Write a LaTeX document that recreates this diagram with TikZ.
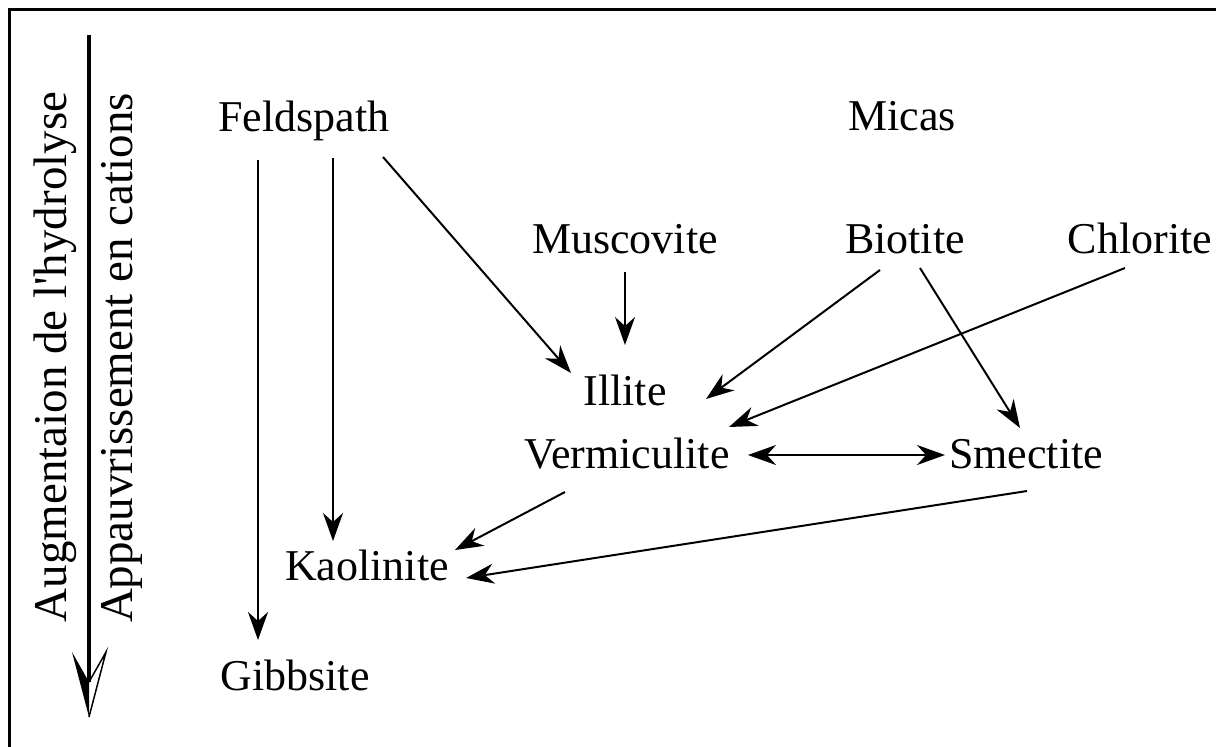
\documentclass[tikz,border=0pt]{standalone}
\usepackage{fontspec}
\setmainfont{Liberation Serif}
\usetikzlibrary{arrows.meta}

\begin{document}
\begin{tikzpicture}[x=1pt, y=-1pt, line width=2pt, >={Stealth[length=28pt,width=20pt,inset=9pt]}]
\useasboundingbox (0,0) rectangle (1216,747);
% frame: only top and left sides
\draw[line width=3pt] (9.5,747) -- (9.5,9.5) -- (1216,9.5);

\tikzstyle{every node} = [inner sep=0pt, anchor=base, font=\fontsize{44}{53}\selectfont]
\node (feld) at (304,131) {Feldspath};
\node (micas) at (902,130) {Micas};
\node (musc) at (625,253) {Muscovite};
\node (bio) at (905,253) {Biotite};
\node (chl) at (1140,253) {Chlorite};
\node (ill) at (625,405) {Illite};
\node (verm) at (627,468) {Vermiculite};
\node (sme) at (1026,468) {Smectite};
\node (kao) at (367,580) {Kaolinite};
\node (gib) at (295,690) {Gibbsite};

% side labels
\tikzstyle{every node} = [inner sep=0pt, anchor=center, rotate=90, font=\fontsize{47}{56}\selectfont]
\node (hydro) at (55,357) {Augmentaion de l\textquotesingle hydrolyse};
\node (cat) at (122,358) {Appauvrissement en cations};

% big downward arrow, half filled head
\coordinate (top) at (89,35);
\coordinate (tip) at (89,717);
\draw[line width=4pt] (top) -- ([shift={(0,-35)}]tip);
\fill ([shift={(0,-35)}]tip) -- ([shift={(-17,-65)}]tip) -- (tip) -- cycle;
\draw[line width=1.5pt] ([shift={(0,-35)}]tip) -- ([shift={(17,-65)}]tip) -- (tip);

\draw[->] ([shift={(-46,29)}]feld.base) -- ([shift={(-37,-50)}]gib.base);
\draw[->] ([shift={(29,27)}]feld.base) -- ([shift={(-34,-39)}]kao.base);
\draw[->] ([shift={(79,26)}]feld.base) -- ([shift={(-54,-32)}]ill.base);
\draw[->] ([shift={(0,19)}]musc.base) -- ([shift={(0,-60)}]ill.base);
\draw[->] ([shift={(-25,17)}]bio.base) -- ([shift={(81,-6)}]ill.base);
\draw[->] ([shift={(-15,15)}]chl.base) -- ([shift={(102,-41)}]verm.base);
\draw[->] ([shift={(15,15)}]bio.base) -- ([shift={(-6,-40)}]sme.base);
\draw[<->] ([shift={(121,-13)}]verm.base) -- ([shift={(-81,-13)}]sme.base);
\draw[->] ([shift={(-62,24)}]verm.base) -- ([shift={(88,-30)}]kao.base);
\draw[->] ([shift={(1,23)}]sme.base) -- ([shift={(99,-2)}]kao.base);
\end{tikzpicture}
\end{document}
